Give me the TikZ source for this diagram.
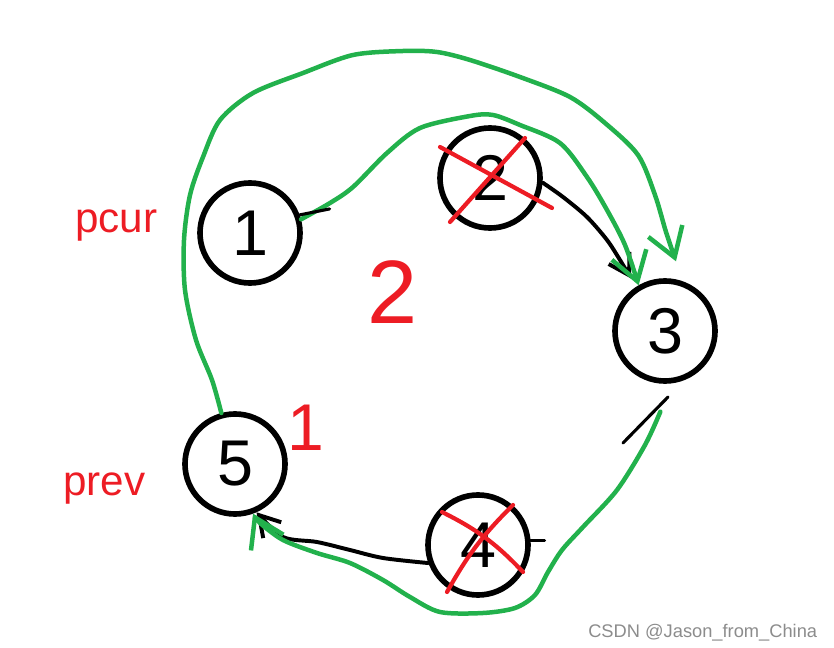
\documentclass[tikz,border=0pt]{standalone}
\usepackage{fontspec}
\setmainfont{Liberation Sans}
\usetikzlibrary{arrows.meta}
\definecolor{paintgreen}{RGB}{34,177,76}
\definecolor{paintred}{RGB}{237,28,36}
\definecolor{markgray}{RGB}{140,140,140}

\begin{document}
\begin{tikzpicture}[x=0.025cm, y=-0.025cm,
  listnode/.style={circle, draw=black, line width=4pt, minimum size=2.5cm, inner sep=0pt, font=\fontsize{46}{46}\selectfont},
  greenpath/.style={draw=paintgreen, line width=3.2pt, line cap=round, line join=round, -{Straight Barb[length=7mm,width=9mm]}},
  blackpath/.style={draw=black, line width=2.8pt, line cap=round, line join=round, -{Straight Barb[length=5mm,width=6mm]}},
  crossline/.style={draw=paintred, line width=3pt, line cap=round},
  tickline/.style={draw=black, line width=2.2pt, line cap=round},
  redlabel/.style={text=paintred, inner sep=0pt, anchor=base west, font=\fontsize{30}{30}\selectfont},
  rednum/.style={text=paintred, inner sep=0pt}]
\useasboundingbox (0,0) rectangle (834,648);
\node[listnode] (n1) at (250,233) {1};
\node[listnode] (n2) at (490,178) {2};
\node[listnode] (n3) at (665,331) {3};
\node[listnode] (n4) at (478,545) {4};
\node[listnode] (n5) at (235,464) {5};
\node[redlabel] (pcur) at (75,233) {pcur};
\node[redlabel] (prev) at (63,495) {prev};
\node[rednum, font=\fontsize{64}{64}\selectfont] (two) at (393,292) {2};
\node[rednum, font=\fontsize{47}{47}\selectfont] (one) at (306,428) {1};
\draw[crossline] ([shift={(-50,-31)}]n2.center) -- ([shift={(62,30)}]n2.center);
\draw[crossline] ([shift={(35,-40)}]n2.center) -- ([shift={(-40,44)}]n2.center);
\draw[crossline] ([shift={(-36,-33)}]n4.center) to[bend left=10] ([shift={(45,27)}]n4.center);
\draw[crossline] ([shift={(35,-40)}]n4.center) to[bend right=8] ([shift={(-31,47)}]n4.center);
\draw[blackpath] plot[smooth] coordinates {(n2.-5) (563,197) (587,217) (607,240) (620,260) ([yshift=3mm]n3.130)};
\draw[blackpath] plot[smooth] coordinates {(n4.200) (383,558) (350,550) (317,542) (283,537) (n5.-66)};
\draw[greenpath] plot[smooth] coordinates {(n5.105) (212,380) (196,340) (185,290) (184,240) (190,195) (203,157) (220,120) (253,93) (303,73) (353,55) (403,51) (437,52) (470,60) (520,77) (570,97) (605,123) (638,155) (655,195) (666,232) ([yshift=4.5mm]n3.78)};
\draw[greenpath] plot[smooth] coordinates {(n1.15) (330,203) (353,187) (387,153) (420,128) (470,116) (493,115) (520,125) (560,143) (587,177) (607,210) (625,245) (n3.120)};
\draw[greenpath] plot[smooth] coordinates {([yshift=-7mm]n3.265) (645,445) (617,490) (583,527) (562,550) (548,572) (535,595) (515,608) (483,613) (440,612) (410,597) (383,580) (350,563) (317,553) (283,540) (260,523) (n5.-70)};
\draw[tickline] (n1.20) -- ++(30,-6);
\draw[tickline] (n4.5) -- ++(14,0);
\draw[tickline] ([shift={(3,66)}]n3.center) -- ([shift={(-42,112)}]n3.center);
\node[text=markgray, anchor=base west, inner sep=0pt, font=\fontsize{13}{13}\selectfont] (mark) at (588,637) {CSDN @Jason\_from\_China};
\end{tikzpicture}
\end{document}
